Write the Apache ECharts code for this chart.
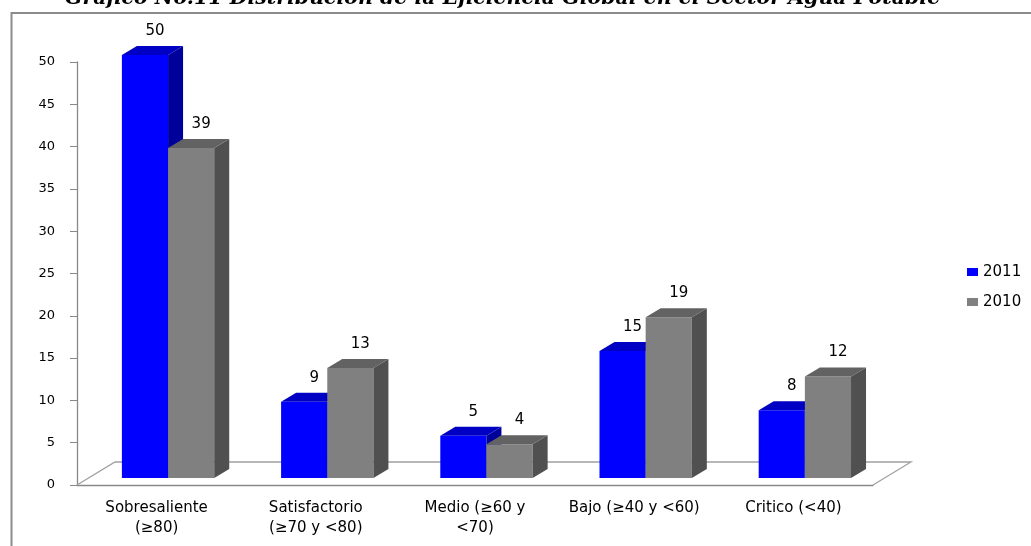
<!DOCTYPE html>
<html>
<head>
<meta charset="utf-8">
<script src="https://cdn.jsdelivr.net/npm/echarts@6/dist/echarts.min.js"></script>
<style>html,body{margin:0;padding:0;background:#fff}#chart{width:1031px;height:546px}</style>
</head>
<body>
<div id="chart"></div>
<script>
const titleText = 'Gráfico No.11 Distribución de la Eficiencia Global en el Sector Agua Potable';
const categories = ['Sobresaliente\n(≥80)', 'Satisfactorio\n(≥70 y <80)', 'Medio (≥60 y\n<70)', 'Bajo (≥40 y <60)', 'Critico (<40)'];
const seriesNames = ['2011', '2010'];
const values2011 = [50, 9, 5, 15, 8];
const values2010 = [39, 13, 4, 19, 12];
const yMin = 0, yMax = 50, yInterval = 5;

const palettes = [
  {front: '#0000ff', top: '#0000c4', side: '#00009a'},
  {front: '#808080', top: '#626262', side: '#505050'}
];

function makeRender(k) {
  const c = palettes[k];
  return function (params, api) {
    const ci = api.value(0), v = api.value(1);
    const base = api.coord([ci, 0]);
    const top = api.coord([ci, v]);
    const band = api.size([1, 0])[0];
    const w = band * 0.29;
    const shiftX = band * 0.072, shiftY = 7;
    const x0 = base[0] + shiftX - w + k * w;
    const x1 = x0 + w;
    const yb = base[1] - shiftY, yt = top[1] - shiftY;
    const dx = 15, dy = 9;
    return {
      type: 'group',
      children: [
        {type: 'polygon', shape: {points: [[x0, yb], [x1, yb], [x1, yt], [x0, yt]]}, style: {fill: c.front}},
        {type: 'polygon', shape: {points: [[x1, yb], [x1 + dx, yb - dy], [x1 + dx, yt - dy], [x1, yt]]}, style: {fill: c.side}},
        {type: 'polygon', shape: {points: [[x0, yt], [x1, yt], [x1 + dx, yt - dy], [x0 + dx, yt - dy]]}, style: {fill: c.top}},
        {type: 'text', style: {text: String(v), x: (x0 + x1) / 2 + 10, y: yt - 24, align: 'center', verticalAlign: 'middle', font: '15px "DejaVu Sans"', fill: '#000'}}
      ]
    };
  };
}

const chart = echarts.init(document.getElementById('chart'), null, {renderer: 'canvas'});
chart.setOption({
  animation: false,
  backgroundColor: '#fff',
  title: {
    text: titleText, left: 60, top: -16,
    textStyle: {fontFamily: '"DejaVu Serif"', fontStyle: 'italic', fontWeight: 'bold', fontSize: 20.5, color: '#000'}
  },
  graphic: [{
    type: 'rect', z: -10, shape: {x: 11.5, y: 13, width: 1040, height: 600},
    style: {fill: null, stroke: '#8c8c8c', lineWidth: 2}
  }],
  legend: {
    data: seriesNames, orient: 'vertical', left: 962, top: 259,
    itemWidth: 11, itemHeight: 8, itemGap: 14, icon: 'rect',
    textStyle: {fontFamily: '"DejaVu Sans"', fontSize: 15, color: '#000', lineHeight: 16, padding: [0, 0, 0, 0]}
  },
  grid: {left: 77, right: 158, top: 62, bottom: 61},
  xAxis: {
    type: 'category', data: categories,
    axisLine: {lineStyle: {color: '#888', width: 1.3}},
    axisTick: {length: 6, lineStyle: {color: '#888'}},
    axisLabel: {interval: 0, fontFamily: '"DejaVu Sans"', fontSize: 15, color: '#000', lineHeight: 20, margin: 13}
  },
  yAxis: {
    type: 'value', min: yMin, max: yMax, interval: yInterval,
    splitLine: {show: false},
    axisLine: {show: true, lineStyle: {color: '#888', width: 1.3}},
    axisTick: {show: true, length: 7, lineStyle: {color: '#888'}},
    axisLabel: {fontFamily: '"DejaVu Sans"', fontSize: 13, color: '#000', margin: 22}
  },
  series: [
    {
      type: 'custom', silent: true, z: 1, data: [[0, 0]],
      renderItem: function (params, api) {
        const cs = params.coordSys;
        const y0 = cs.y + cs.height, xL = cs.x, xR = cs.x + cs.width;
        return {type: 'polyline', shape: {points: [[xL, y0], [xL + 38, y0 - 23], [xR + 38, y0 - 23], [xR, y0]]},
          style: {stroke: '#a0a0a0', lineWidth: 1.3, fill: null}};
      }
    },
    {
      name: seriesNames[0], type: 'custom', z: 2, itemStyle: {color: palettes[0].front},
      encode: {x: 0, y: 1},
      data: values2011.map((v, i) => [i, v]),
      renderItem: makeRender(0)
    },
    {
      name: seriesNames[1], type: 'custom', z: 3, itemStyle: {color: palettes[1].front},
      encode: {x: 0, y: 1},
      data: values2010.map((v, i) => [i, v]),
      renderItem: makeRender(1)
    }
  ]
});
</script>
</body>
</html>
